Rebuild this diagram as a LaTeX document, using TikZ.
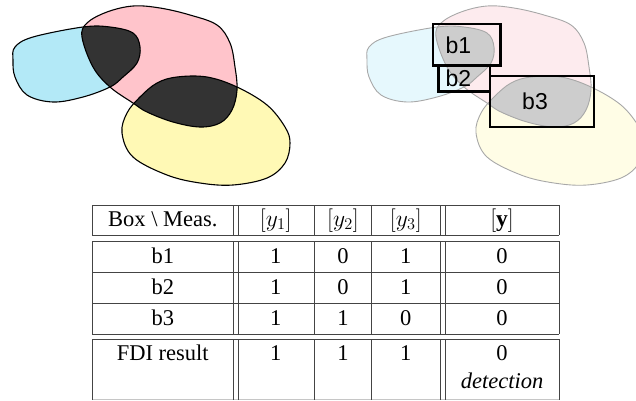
\documentclass[tikz,border=0pt]{standalone}
\usepackage{graphicx}
\usepackage{fontspec}
\setmainfont{Liberation Serif}
\newfontfamily\labelfont{Liberation Sans}
\definecolor{bluefill}{HTML}{B3E9F7}
\definecolor{pinkfill}{HTML}{FFC4CB}
\definecolor{yellowfill}{HTML}{FFF9B5}
\definecolor{darkfill}{HTML}{333333}
\definecolor{bluepale}{HTML}{E6F8FD}
\definecolor{pinkpale}{HTML}{FDEBEE}
\definecolor{yellowpale}{HTML}{FFFDE6}
\definecolor{graypale}{HTML}{CDCDCD}
\definecolor{outlinegray}{HTML}{A8A8A8}
\definecolor{rulegray}{HTML}{444444}
\def\bluepath{plot[smooth cycle, tension=0.6] coordinates {(13,60) (15,47) (33,37) (83,27) (110,27) (133,33) (140,47) (137,63) (123,77) (110,87) (83,97) (53,102) (27,95) (15,77)}}
\def\pinkpath{plot[smooth cycle, tension=0.6] coordinates {(82,37) (87,23) (107,12) (133,6) (160,8) (190,15) (217,25) (230,43) (235,67) (237,90) (232,110) (220,123) (200,127) (173,122) (147,112) (133,103) (110,87) (93,67)}}
\def\yellowpath{plot[smooth cycle, tension=0.6] coordinates {(177,77) (207,77) (237,87) (267,105) (285,127) (290,143) (285,163) (267,178) (233,185) (200,183) (167,175) (133,157) (122,133) (127,113) (140,97) (157,83)}}
\newcommand{\bigmath}[1]{\scalebox{1.36}{\fontsize{17.28}{20}\selectfont$#1$}}
\tikzset{
  blobline/.style={draw=black, line width=1.1pt},
  paleline/.style={draw=outlinegray, line width=0.9pt},
  boxframe/.style={draw=black, line width=2.4pt},
  boxlabel/.style={font=\labelfont\fontsize{23}{26}\selectfont, inner sep=0pt},
  tabrule/.style={draw=rulegray, line width=1pt},
  cell/.style={font=\fontsize{22.5}{26}\selectfont, inner sep=0pt, anchor=base},
}
\begin{document}
\begin{tikzpicture}[x=1pt,y=-1pt]
\useasboundingbox (0,0) rectangle (636,400);
% ---------- left picture ----------
\fill[bluefill] \bluepath;
\fill[pinkfill] \pinkpath;
\fill[yellowfill] \yellowpath;
\begin{scope}
  \clip \bluepath;
  \fill[darkfill] \pinkpath;
\end{scope}
\begin{scope}
  \clip \pinkpath;
  \fill[darkfill] \yellowpath;
\end{scope}
\path[blobline] \bluepath;
\path[blobline] \pinkpath;
\path[blobline] \yellowpath;
% ---------- right picture ----------
\begin{scope}[xshift=354pt]
  \fill[bluepale] \bluepath;
  \fill[pinkpale] \pinkpath;
  \fill[yellowpale] \yellowpath;
  \begin{scope}
    \clip \bluepath;
    \fill[graypale] \pinkpath;
  \end{scope}
  \begin{scope}
    \clip \pinkpath;
    \fill[graypale] \yellowpath;
  \end{scope}
  \path[paleline] \bluepath;
  \path[paleline] \pinkpath;
  \path[paleline] \yellowpath;
\end{scope}
\node[boxframe, minimum width=67.6pt, minimum height=41.3pt, inner sep=0pt] (b1box) at (466.5,44.7) {};
\node[boxframe, minimum width=51.7pt, minimum height=25.7pt, inner sep=0pt] (b2box) at (464.2,78.8) {};
\node[boxframe, minimum width=104pt, minimum height=50.7pt, inner sep=0pt] (b3box) at (542,101.4) {};
\node[boxlabel] (b1lab) at (458.3,45) {b1};
\node[boxlabel] (b2lab) at (458.3,78) {b2};
\node[boxlabel] (b3lab) at (535,101.7) {b3};
% ---------- table ----------
\foreach \yy in {205,235,241,272,303,334,339}{
  \draw[tabrule] (92.3,\yy) -- (559,\yy);
}
\draw[draw=gray!45, line width=0.8pt] (92.3,399.5) -- (559,399.5);
\foreach \xx in {92.3,233.3,238.3,314.3,371.7,440,445,559}{
  \draw[tabrule] (\xx,205) -- (\xx,235);
  \draw[tabrule] (\xx,241) -- (\xx,334);
  \draw[tabrule] (\xx,339) -- (\xx,400);
}
% header
\node[cell] (h0) at (162.8,226) {Box \textbackslash\ Meas.};
\node[cell] (h1) at (275.8,226) {\bigmath{[y_1]}};
\node[cell] (h2) at (343,226) {\bigmath{[y_2]}};
\node[cell] (h3) at (405.8,226) {\bigmath{[y_3]}};
\node[cell] (h4) at (502,226) {\bigmath{[\mathbf{y}]}};
% rows
\node[cell] (r1c0) at (162.8,263.3) {b1};
\node[cell] (r1c1) at (275.8,263.3) {1};
\node[cell] (r1c2) at (343,263.3) {0};
\node[cell] (r1c3) at (405.8,263.3) {1};
\node[cell] (r1c4) at (502,263.3) {0};
\node[cell] (r2c0) at (162.8,294.3) {b2};
\node[cell] (r2c1) at (275.8,294.3) {1};
\node[cell] (r2c2) at (343,294.3) {0};
\node[cell] (r2c3) at (405.8,294.3) {1};
\node[cell] (r2c4) at (502,294.3) {0};
\node[cell] (r3c0) at (162.8,325.5) {b3};
\node[cell] (r3c1) at (275.8,325.5) {1};
\node[cell] (r3c2) at (343,325.5) {1};
\node[cell] (r3c3) at (405.8,325.5) {0};
\node[cell] (r3c4) at (502,325.5) {0};
\node[cell] (r4c0) at (162.8,360.7) {FDI result};
\node[cell] (r4c1) at (275.8,360.7) {1};
\node[cell] (r4c2) at (343,360.7) {1};
\node[cell] (r4c3) at (405.8,360.7) {1};
\node[cell] (r4c4) at (502,360.7) {0};
\node[cell] (r4c4b) at (502,388) {\itshape detection};
\end{tikzpicture}
\end{document}
